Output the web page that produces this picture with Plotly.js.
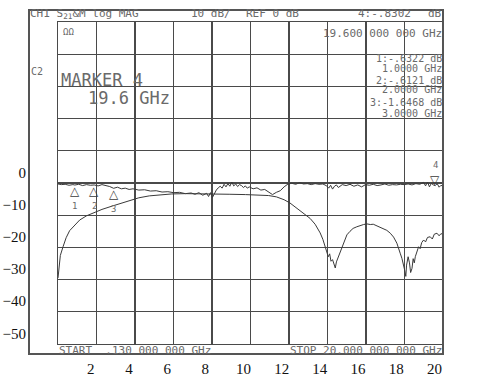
<!DOCTYPE html>
<html><head><meta charset="utf-8">
<script src="https://cdn.plot.ly/plotly-3.0.1.min.js"></script>
<style>html,body{margin:0;padding:0;background:#fff}#chart{width:480px;height:384px}</style>
</head><body><div id="chart"></div>
<script>
// Trace 1 (upper, thru response), instrument dB vs GHz
const freqA = [0.13,0.3,0.5,0.7,0.9,1.0,1.2,1.4,1.6,1.8,2.0,2.2,2.4,2.6,2.8,3.0,3.2,3.4,3.6,3.8,4.0,4.3,4.6,4.9,5.2,5.5,5.8,6.1,6.4,6.7,7.0,7.2,7.4,7.6,7.8,7.9,8.0,8.1,8.2,8.3,8.4,8.5,8.6,8.7,8.8,8.9,9.0,9.1,9.2,9.3,9.4,9.5,9.6,9.7,9.8,9.9,10.0,10.2,10.4,10.6,10.8,11.0,11.2,11.4,11.6,11.8,12.0,12.2,12.4,12.6,12.8,13.0,13.2,13.4,13.6,13.8,14.0,14.1,14.2,14.3,14.4,14.5,14.6,14.8,15.0,15.2,15.4,15.6,15.8,16.0,16.2,16.4,16.6,16.8,17.0,17.2,17.4,17.6,17.8,18.0,18.2,18.4,18.6,18.8,19.0,19.1,19.2,19.3,19.4,19.5,19.6,19.7,19.8,19.9,20.0];
const dbA = [-0.3,-0.5,-0.4,-0.7,-0.5,-0.63,-0.4,-0.8,-0.5,-0.7,-0.61,-0.9,-0.5,-0.8,-1.1,-1.65,-1.3,-1.8,-1.6,-2.0,-1.8,-2.2,-2.1,-2.5,-2.4,-2.8,-2.7,-3.0,-2.9,-3.3,-3.1,-3.5,-3.0,-3.8,-3.2,-4.2,-3.0,-4.5,-3.3,-2.2,-1.5,-1.0,-1.6,-0.4,-1.2,-0.2,-1.0,0.3,-0.9,-0.3,-1.1,-0.5,-0.8,-1.4,-0.9,-1.6,-1.2,-1.8,-1.5,-2.2,-2.0,-2.8,-3.6,-2.9,-2.4,-1.2,-0.3,-0.1,-0.4,0.1,-0.3,-0.2,-0.5,-0.2,-0.4,-0.3,-0.9,-1.6,-0.7,-1.9,-1.0,-0.6,-1.4,-0.5,-0.8,-0.4,-1.0,-0.6,-1.2,-0.5,-0.7,-0.4,-0.8,-0.6,-0.3,-0.7,-0.5,-0.6,-0.4,-0.5,-0.3,-0.6,-0.2,-0.4,0.2,-0.9,0.3,-1.2,-0.1,-0.6,-0.83,-0.2,-1.3,-0.7,-1.1];
// Trace 2 (lower, filter response)
const freqB = [0.13,0.18,0.25,0.39,0.55,0.73,1.0,1.25,1.6,1.94,2.4,2.96,3.4,3.8,4.3,4.84,5.4,6.0,6.7,7.45,8.2,9.0,9.8,10.5,11.0,11.4,11.8,12.1,12.45,12.8,13.14,13.4,13.66,13.8,13.92,14.0,14.08,14.15,14.22,14.3,14.38,14.44,14.5,14.6,14.7,14.78,14.9,15.04,15.2,15.36,15.55,15.7,15.9,16.07,16.25,16.4,16.6,16.76,16.95,17.1,17.28,17.45,17.62,17.72,17.79,17.88,17.95,18.02,18.08,18.12,18.2,18.27,18.33,18.4,18.46,18.52,18.57,18.65,18.74,18.82,18.9,19.0,19.1,19.2,19.34,19.45,19.55,19.69,19.8,19.9,20.0];
const dbB = [-29.5,-25.5,-22.5,-19.8,-17.0,-14.8,-12.9,-11.5,-10.2,-9.3,-8.2,-7.1,-6.2,-5.4,-4.6,-4.0,-3.6,-3.4,-3.3,-3.3,-3.4,-3.5,-3.6,-3.7,-3.9,-4.3,-5.2,-6.2,-7.8,-9.3,-11.0,-12.8,-15.5,-17.5,-19.8,-21.5,-22.9,-22.0,-24.3,-23.8,-25.6,-26.4,-24.5,-22.9,-21.0,-19.8,-17.8,-16.1,-15.0,-14.1,-13.6,-13.2,-12.9,-12.7,-12.9,-12.8,-13.3,-13.6,-14.2,-14.7,-15.6,-16.8,-18.7,-20.2,-21.8,-23.4,-24.9,-27.0,-29.0,-25.5,-22.9,-24.8,-27.8,-26.5,-23.5,-24.8,-22.9,-21.2,-19.8,-20.4,-18.5,-17.7,-18.3,-16.9,-16.7,-17.4,-15.9,-15.6,-16.4,-15.7,-16.1];
// Markers
const markerIds = ['1','2','3','4'];
const markerFreq = [1.0, 2.0, 3.0, 19.6];
const markerDb = [-0.6322, -0.6121, -1.6468, -0.8302];
// Overlay tick labels
const xTickVals = [2,4,6,8,10,12,14,16,18,20];
const yTickVals = [0,-10,-20,-30,-40,-50];

const gridC = '#4a4a4a', textC = '#6a6a6a', traceC = '#3a3a3a';
const mono = 'DejaVu Sans Mono';

const traces = [
  {x: freqA, y: dbA, mode:'lines', line:{color:traceC, width:1}, xaxis:'x', yaxis:'y', hoverinfo:'skip'},
  {x: freqB, y: dbB, mode:'lines', line:{color:traceC, width:1}, xaxis:'x', yaxis:'y', hoverinfo:'skip'}
];

const ann = [];
function P(px, py){ return {x:(px-58)/385, y:(344-py)/322}; }
function txt(t, px, py, xa, size, extra){
  const p = P(px, py);
  ann.push(Object.assign({text:t, x:p.x, y:p.y, xref:'paper', yref:'paper', xanchor:xa, yanchor:'middle', showarrow:false,
    borderpad:0, font:{family:mono, size:size, color:textC}}, extra||{}));
}
txt('CH1 S<sub>21</sub>&M log MAG', 29, 14, 'left', 11);
txt('10 dB/', 190, 14, 'left', 11);
txt('REF 0 dB', 245, 14, 'left', 11);
txt('4:-.8302', 357, 14, 'left', 11);
txt('dB', 443, 14, 'right', 11);
txt('ΩΩ', 62, 32, 'left', 9);
txt('19.600 000 000 GHz', 443, 33, 'right', 11);
txt('C2', 30, 72, 'left', 10);
txt('MARKER 4', 60, 80, 'left', 17);
txt('19.6 GHz', 87, 98, 'left', 17);
txt('1:-.6322 dB', 443, 58, 'right', 10);
txt('1.0000 GHz', 443, 68, 'right', 10);
txt('2:-.6121 dB', 443, 80, 'right', 10);
txt('2.0000 GHz', 443, 90, 'right', 10);
txt('3:-1.6468 dB', 443, 103, 'right', 10);
txt('3.0000 GHz', 443, 113, 'right', 10);
txt('START  .130 000 000 GHz', 58, 350, 'left', 11);
txt('STOP 20.000 000 000 GHz', 443, 350, 'right', 11);

for (let i=0;i<markerIds.length;i++){
  const down = markerIds[i]==='4';
  ann.push({text: down ? '▽' : '△', x: markerFreq[i], y: markerDb[i], xref:'x', yref:'y',
    xanchor:'center', yanchor: down ? 'bottom':'top', yshift: down ? -2 : 2, showarrow:false, borderpad:0,
    font:{family:'DejaVu Sans', size:12, color:traceC}});
  ann.push({text: markerIds[i], x: markerFreq[i], y: markerDb[i], xref:'x', yref:'y',
    xanchor:'center', yanchor: down ? 'bottom':'top', yshift: down ? 15 : -15, showarrow:false, borderpad:0,
    font:{family:mono, size:9, color:textC}});
}

const layout = {
  width:480, height:384,
  margin:{l:58, r:37, t:22, b:40, pad:0},
  paper_bgcolor:'#fff', plot_bgcolor:'#fff',
  showlegend:false,
  xaxis:{range:[0.13,20], tick0:0.13, dtick:1.987, showgrid:true, gridcolor:gridC, gridwidth:1.2,
    showticklabels:false, ticks:'', zeroline:false, showline:true, mirror:true, linecolor:gridC, linewidth:1.3, fixedrange:true},
  yaxis:{range:[-50,50], dtick:10, showgrid:true, gridcolor:gridC, gridwidth:1.2,
    showticklabels:false, ticks:'', zeroline:false, showline:true, mirror:true, linecolor:gridC, linewidth:1.3, fixedrange:true},
  xaxis2:{overlaying:'x', anchor:'y', side:'bottom', range:[0.283,20.45], tickvals:xTickVals, showgrid:false, zeroline:false,
    showline:false, ticks:'', ticklabelstandoff:14, tickfont:{family:'Liberation Serif', size:15, color:'#111'}},
  yaxis2:{overlaying:'y', anchor:'x', side:'left', range:[-53.3,46.7], tickvals:yTickVals, showgrid:false, zeroline:false,
    showline:false, ticks:'', ticklabelstandoff:31, tickfont:{family:'Liberation Serif', size:15, color:'#111'}},
  shapes:[
    {type:'rect', xref:'paper', yref:'paper', x0:(29-58)/385, x1:1, y0:(344-354)/322, y1:(344-10)/322,
     line:{color:'#555', width:2}, fillcolor:'rgba(0,0,0,0)'}
  ],
  annotations: ann
};
// invisible point that activates the overlay label axes
traces.push({x:[xTickVals[0]], y:[yTickVals[0]], xaxis:'x2', yaxis:'y2', mode:'markers', marker:{opacity:0}, hoverinfo:'skip'});

Plotly.newPlot('chart', traces, layout, {staticPlot:true, displayModeBar:false});
</script></body></html>
